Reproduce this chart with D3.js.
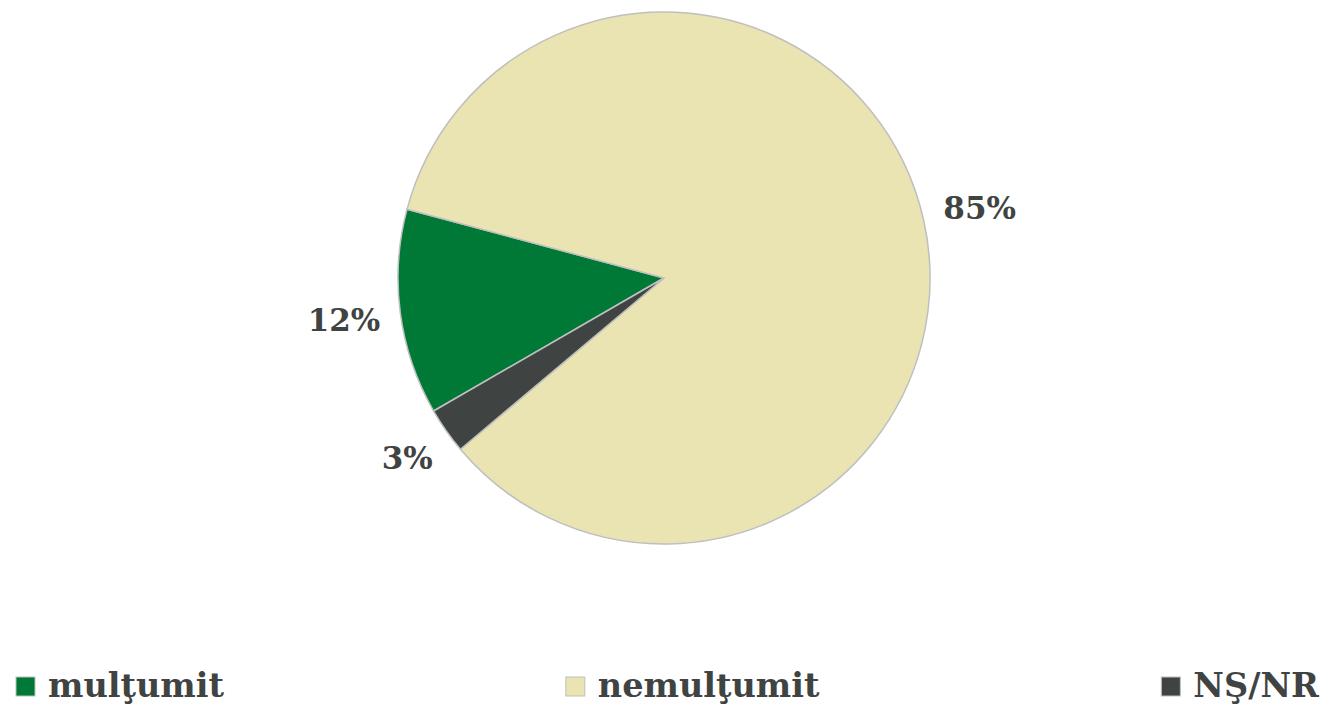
<!DOCTYPE html>
<html>
<head>
<meta charset="utf-8">
<script src="https://cdn.jsdelivr.net/npm/d3@7"></script>
<style>
  body { margin: 0; background: #fff; }
  text { font-family: Georgia, "DejaVu Serif", serif; font-weight: bold; fill: #3f4442; }
</style>
</head>
<body>
<div id="chart"></div>
<script>
// data (shares, labels rounded)
var categories = ["mulţumit", "nemulţumit", "NŞ/NR"];
var values = [12.5, 84.7, 2.8];
var labels = ["12%", "85%", "3%"];
var colors = ["#007836", "#e9e4b1", "#3f4442"];

var width = 1326, height = 706;
var cx = 664, cy = 278, radius = 266;
var labelGap = 19;

var svg = d3.select("#chart").append("svg")
    .attr("width", width)
    .attr("height", height);

var data = categories.map(function (c, i) {
    return { name: c, value: values[i], label: labels[i], color: colors[i] };
});

// first slice starts at 240 deg, clockwise
var pie = d3.pie()
    .sort(null)
    .value(function (d) { return d.value; })
    .startAngle(Math.PI * 4 / 3)
    .endAngle(Math.PI * 4 / 3 + Math.PI * 2);

var arc = d3.arc().innerRadius(0).outerRadius(radius);

var g = svg.append("g")
    .attr("transform", "translate(" + cx + "," + cy + ")");

g.selectAll("path.slice")
    .data(pie(data))
    .enter().append("path")
    .attr("class", "slice")
    .attr("d", arc)
    .attr("fill", function (d) { return d.data.color; })
    .attr("stroke", "#bfbfbf")
    .attr("stroke-width", 1.5)
    .attr("stroke-linejoin", "round");

// outside labels: box edge sits labelGap away from the rim
g.selectAll("text.lbl")
    .data(pie(data))
    .enter().append("text")
    .attr("class", "lbl")
    .attr("text-anchor", "middle")
    .attr("dy", "0.35em")
    .style("font-size", "31px")
    .text(function (d) { return d.data.label; })
    .attr("transform", function (d) {
        var bb = this.getBBox();
        var a = (d.startAngle + d.endAngle) / 2;
        var sx = Math.sin(a), sy = -Math.cos(a);
        var r = radius + labelGap + Math.abs(sx) * bb.width / 2 + Math.abs(sy) * bb.height / 2 * 0.75;
        return "translate(" + (r * sx) + "," + (r * sy) + ")";
    });

// legend, spread with equal gaps across the bottom
var legend = svg.append("g").attr("class", "legend");
var items = legend.selectAll("g.item")
    .data(data)
    .enter().append("g")
    .attr("class", "item");

items.append("rect")
    .attr("x", 0)
    .attr("y", -20)
    .attr("width", 19)
    .attr("height", 19)
    .attr("fill", function (d) { return d.color; })
    .attr("stroke", "#bfbfbf")
    .attr("stroke-width", 1);

items.append("text")
    .attr("x", 32)
    .attr("y", 0)
    .style("font-size", "33.5px")
    .text(function (d) { return d.name; });

var widths = [];
items.each(function () { widths.push(this.getBBox().width); });
var left = 16, right = 1320;
var gap = (right - left - d3.sum(widths)) / (widths.length - 1);
var xpos = left;
items.attr("transform", function (d, i) {
    var t = "translate(" + xpos + ",697)";
    xpos += widths[i] + gap;
    return t;
});
</script>
</body>
</html>
